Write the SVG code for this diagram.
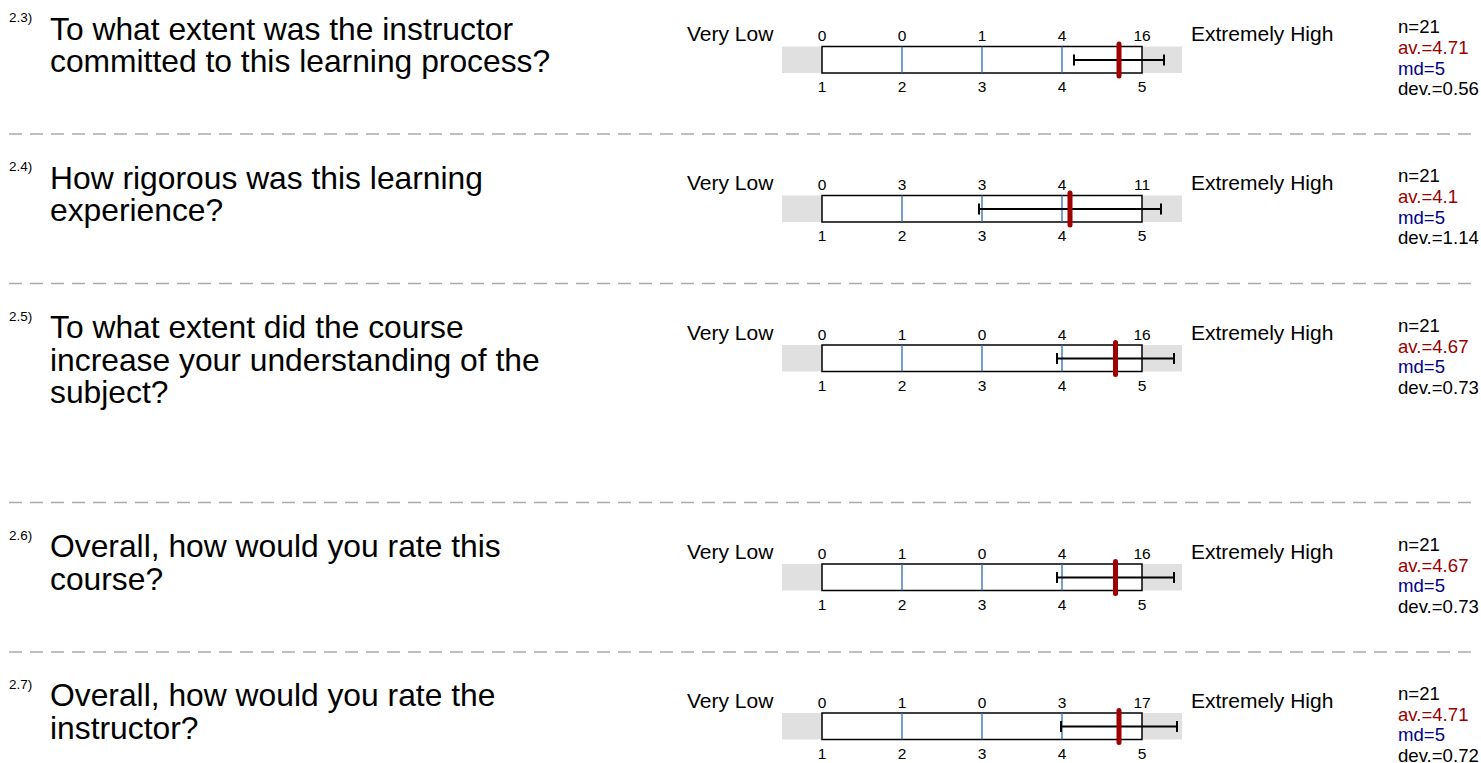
<svg xmlns="http://www.w3.org/2000/svg" width="1481" height="763" viewBox="0 0 1481 763">
<style>
text{font-family:"Liberation Sans",Arial,sans-serif;fill:#000}
.num{font-size:13.5px}
.q{font-size:31.8px}
.lbl{font-size:21px}
.cnt{font-size:15.5px;text-anchor:middle}
.st{font-size:18.6px}
.av{fill:#990000}
.md{fill:#000088}
.band{fill:#e0e0e0}
.box{fill:#fff;stroke:#000;stroke-width:1.5}
.tick{stroke:#2a6db5;stroke-width:1.3}
.err{stroke:#000;stroke-width:2;fill:none}
.mean{stroke:#a00000;stroke-width:5;stroke-linecap:round}
.sep{stroke:#aaa;stroke-width:1.5;stroke-dasharray:13 8}
</style>
<rect width="1481" height="763" fill="#fff"/>
<g id="separators">
<line class="sep" x1="9" y1="134" x2="1474" y2="134"/>
<line class="sep" x1="9" y1="283.5" x2="1474" y2="283.5"/>
<line class="sep" x1="9" y1="502.5" x2="1474" y2="502.5"/>
<line class="sep" x1="9" y1="652" x2="1474" y2="652"/>
</g>
<g id="q23">
<text class="num" x="9" y="22">2.3)</text>
<text class="q" x="50" y="39.5">To what extent was the instructor</text>
<text class="q" x="50" y="72">committed to this learning process?</text>
<text class="lbl" x="687" y="41">Very Low</text>
<rect class="band" x="782" y="46.5" width="400" height="26.5"/>
<rect class="box" x="822" y="46.5" width="320" height="26.5"/>
<line class="tick" x1="902" y1="46.5" x2="902" y2="73"/>
<line class="tick" x1="982" y1="46.5" x2="982" y2="73"/>
<line class="tick" x1="1062" y1="46.5" x2="1062" y2="73"/>
<text class="cnt" x="822" y="41">0</text><text class="cnt" x="902" y="41">0</text><text class="cnt" x="982" y="41">1</text><text class="cnt" x="1062" y="41">4</text><text class="cnt" x="1142" y="41">16</text>
<text class="cnt" x="822" y="92">1</text><text class="cnt" x="902" y="92">2</text><text class="cnt" x="982" y="92">3</text><text class="cnt" x="1062" y="92">4</text><text class="cnt" x="1142" y="92">5</text>
<path class="err" d="M1074 60H1164M1074 54.5V65.5M1164 54.5V65.5"/>
<line class="mean" x1="1119" y1="44" x2="1119" y2="76"/>
<text class="lbl" x="1191" y="41">Extremely High</text>
<text class="st" x="1398" y="33">n=21</text>
<text class="st av" x="1398" y="54">av.=4.71</text>
<text class="st md" x="1398" y="74.5">md=5</text>
<text class="st" x="1398" y="95">dev.=0.56</text>
</g>
<g id="q24" transform="translate(0,149)">
<text class="num" x="9" y="22">2.4)</text>
<text class="q" x="50" y="39.5">How rigorous was this learning</text>
<text class="q" x="50" y="72">experience?</text>
<text class="lbl" x="687" y="41">Very Low</text>
<rect class="band" x="782" y="46.5" width="400" height="26.5"/>
<rect class="box" x="822" y="46.5" width="320" height="26.5"/>
<line class="tick" x1="902" y1="46.5" x2="902" y2="73"/>
<line class="tick" x1="982" y1="46.5" x2="982" y2="73"/>
<line class="tick" x1="1062" y1="46.5" x2="1062" y2="73"/>
<text class="cnt" x="822" y="41">0</text><text class="cnt" x="902" y="41">3</text><text class="cnt" x="982" y="41">3</text><text class="cnt" x="1062" y="41">4</text><text class="cnt" x="1142" y="41">11</text>
<text class="cnt" x="822" y="92">1</text><text class="cnt" x="902" y="92">2</text><text class="cnt" x="982" y="92">3</text><text class="cnt" x="1062" y="92">4</text><text class="cnt" x="1142" y="92">5</text>
<path class="err" d="M979 60H1161M979 54.5V65.5M1161 54.5V65.5"/>
<line class="mean" x1="1070" y1="44" x2="1070" y2="76"/>
<text class="lbl" x="1191" y="41">Extremely High</text>
<text class="st" x="1398" y="33">n=21</text>
<text class="st av" x="1398" y="54">av.=4.1</text>
<text class="st md" x="1398" y="74.5">md=5</text>
<text class="st" x="1398" y="95">dev.=1.14</text>
</g>
<g id="q25" transform="translate(0,298.5)">
<text class="num" x="9" y="22">2.5)</text>
<text class="q" x="50" y="39.5">To what extent did the course</text>
<text class="q" x="50" y="72">increase your understanding of the</text>
<text class="q" x="50" y="104.5">subject?</text>
<text class="lbl" x="687" y="41">Very Low</text>
<rect class="band" x="782" y="46.5" width="400" height="26.5"/>
<rect class="box" x="822" y="46.5" width="320" height="26.5"/>
<line class="tick" x1="902" y1="46.5" x2="902" y2="73"/>
<line class="tick" x1="982" y1="46.5" x2="982" y2="73"/>
<line class="tick" x1="1062" y1="46.5" x2="1062" y2="73"/>
<text class="cnt" x="822" y="41">0</text><text class="cnt" x="902" y="41">1</text><text class="cnt" x="982" y="41">0</text><text class="cnt" x="1062" y="41">4</text><text class="cnt" x="1142" y="41">16</text>
<text class="cnt" x="822" y="92">1</text><text class="cnt" x="902" y="92">2</text><text class="cnt" x="982" y="92">3</text><text class="cnt" x="1062" y="92">4</text><text class="cnt" x="1142" y="92">5</text>
<path class="err" d="M1057 60H1174M1057 54.5V65.5M1174 54.5V65.5"/>
<line class="mean" x1="1115.5" y1="44" x2="1115.5" y2="76"/>
<text class="lbl" x="1191" y="41">Extremely High</text>
<text class="st" x="1398" y="33">n=21</text>
<text class="st av" x="1398" y="54">av.=4.67</text>
<text class="st md" x="1398" y="74.5">md=5</text>
<text class="st" x="1398" y="95">dev.=0.73</text>
</g>
<g id="q26" transform="translate(0,517.5)">
<text class="num" x="9" y="22">2.6)</text>
<text class="q" x="50" y="39.5">Overall, how would you rate this</text>
<text class="q" x="50" y="72">course?</text>
<text class="lbl" x="687" y="41">Very Low</text>
<rect class="band" x="782" y="46.5" width="400" height="26.5"/>
<rect class="box" x="822" y="46.5" width="320" height="26.5"/>
<line class="tick" x1="902" y1="46.5" x2="902" y2="73"/>
<line class="tick" x1="982" y1="46.5" x2="982" y2="73"/>
<line class="tick" x1="1062" y1="46.5" x2="1062" y2="73"/>
<text class="cnt" x="822" y="41">0</text><text class="cnt" x="902" y="41">1</text><text class="cnt" x="982" y="41">0</text><text class="cnt" x="1062" y="41">4</text><text class="cnt" x="1142" y="41">16</text>
<text class="cnt" x="822" y="92">1</text><text class="cnt" x="902" y="92">2</text><text class="cnt" x="982" y="92">3</text><text class="cnt" x="1062" y="92">4</text><text class="cnt" x="1142" y="92">5</text>
<path class="err" d="M1057 60H1174M1057 54.5V65.5M1174 54.5V65.5"/>
<line class="mean" x1="1115.5" y1="44" x2="1115.5" y2="76"/>
<text class="lbl" x="1191" y="41">Extremely High</text>
<text class="st" x="1398" y="33">n=21</text>
<text class="st av" x="1398" y="54">av.=4.67</text>
<text class="st md" x="1398" y="74.5">md=5</text>
<text class="st" x="1398" y="95">dev.=0.73</text>
</g>
<g id="q27" transform="translate(0,666.5)">
<text class="num" x="9" y="22">2.7)</text>
<text class="q" x="50" y="39.5">Overall, how would you rate the</text>
<text class="q" x="50" y="72">instructor?</text>
<text class="lbl" x="687" y="41">Very Low</text>
<rect class="band" x="782" y="46.5" width="400" height="26.5"/>
<rect class="box" x="822" y="46.5" width="320" height="26.5"/>
<line class="tick" x1="902" y1="46.5" x2="902" y2="73"/>
<line class="tick" x1="982" y1="46.5" x2="982" y2="73"/>
<line class="tick" x1="1062" y1="46.5" x2="1062" y2="73"/>
<text class="cnt" x="822" y="41">0</text><text class="cnt" x="902" y="41">1</text><text class="cnt" x="982" y="41">0</text><text class="cnt" x="1062" y="41">3</text><text class="cnt" x="1142" y="41">17</text>
<text class="cnt" x="822" y="92">1</text><text class="cnt" x="902" y="92">2</text><text class="cnt" x="982" y="92">3</text><text class="cnt" x="1062" y="92">4</text><text class="cnt" x="1142" y="92">5</text>
<path class="err" d="M1061 60H1177M1061 54.5V65.5M1177 54.5V65.5"/>
<line class="mean" x1="1119" y1="44" x2="1119" y2="76"/>
<text class="lbl" x="1191" y="41">Extremely High</text>
<text class="st" x="1398" y="33">n=21</text>
<text class="st av" x="1398" y="54">av.=4.71</text>
<text class="st md" x="1398" y="74.5">md=5</text>
<text class="st" x="1398" y="95">dev.=0.72</text>
</g>
</svg>
